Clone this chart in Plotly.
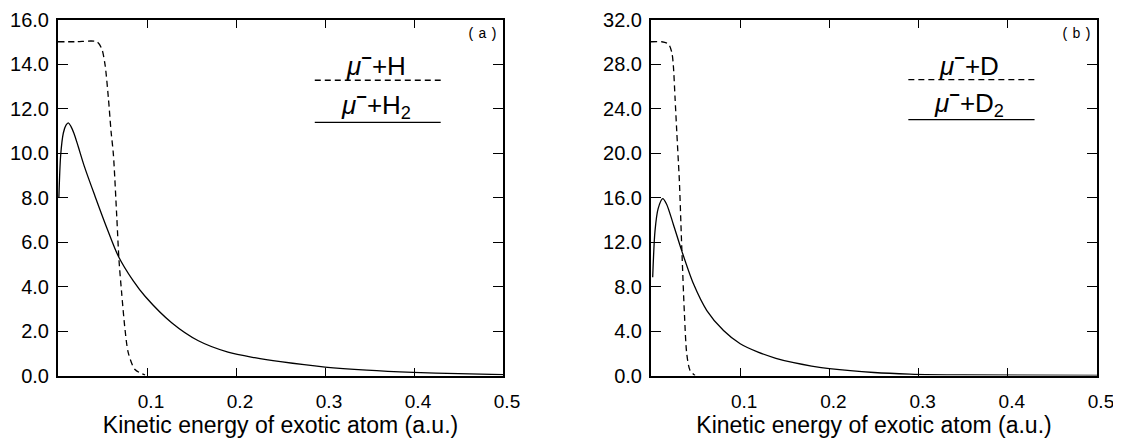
import plotly.graph_objects as go

# ---------------- Panel (a): mu- + H (dashed) and mu- + H2 (solid) ----------------
a_h_x = [0.0, 0.02, 0.0435, 0.049, 0.0528, 0.0566, 0.0596, 0.0622, 0.066, 0.0685,
         0.0715, 0.0753, 0.079, 0.0865, 0.0978]
a_h_y = [15.0, 15.0, 15.0, 14.7, 13.98, 12.48, 10.98, 9.95, 7.16, 5.2,
         3.72, 2.07, 1.02, 0.27, 0.02]

a_h2_x = [0.001, 0.003, 0.006, 0.009, 0.0116, 0.0145, 0.018, 0.0228, 0.0296, 0.0416,
          0.055, 0.0678, 0.0846, 0.0978, 0.1277, 0.1577, 0.191, 0.221, 0.25,
          0.30, 0.347, 0.399, 0.45, 0.5]
a_h2_y = [8.0, 9.9, 10.9, 11.25, 11.35, 11.2, 10.88, 10.28, 9.4, 8.06,
          6.62, 5.36, 4.25, 3.56, 2.37, 1.56, 1.05, 0.80, 0.62,
          0.38, 0.24, 0.14, 0.08, 0.04]

# ---------------- Panel (b): mu- + D (dashed) and mu- + D2 (solid) ----------------
b_d_x = [0.0, 0.012, 0.0195, 0.0233, 0.025, 0.027, 0.0289, 0.0307, 0.0318, 0.0345,
         0.0375, 0.0401, 0.0438, 0.0494]
b_d_y = [30.0, 30.0, 29.8, 29.06, 27.9, 24.9, 21.9, 19.2, 17.5, 11.5,
         5.5, 1.95, 0.45, 0.0]

b_d2_x = [0.0019, 0.0045, 0.008, 0.0131, 0.0175, 0.025, 0.0345, 0.0476, 0.0626, 0.0813,
          0.1, 0.12, 0.14, 0.16, 0.18, 0.2, 0.25, 0.29, 0.35, 0.5]
b_d2_y = [8.84, 13.0, 15.0, 15.9, 15.4, 13.6, 11.2, 8.24, 5.84, 4.04,
          2.85, 2.1, 1.55, 1.15, 0.85, 0.62, 0.27, 0.13, 0.05, 0.02]

x_ticks = [0.1, 0.2, 0.3, 0.4, 0.5]
x_ticktext = ["0.1", "0.2", "0.3", "0.4", "0.5"]
a_yticks = [0, 2, 4, 6, 8, 10, 12, 14, 16]
b_yticks = [0, 4, 8, 12, 16, 20, 24, 28, 32]

x_title = "Kinetic energy of exotic atom (a.u.)"

FONT = "Liberation Sans, Arial, sans-serif"
DASH = "6px,4px"

fig = go.Figure()

def line(x, y, dash, xa, ya):
    return go.Scatter(x=x, y=y, mode="lines",
                      line=dict(color="black", width=1.3, dash=dash,
                                shape="spline", smoothing=0.8),
                      xaxis=xa, yaxis=ya, showlegend=False, hoverinfo="skip")

fig.add_trace(line(a_h_x, a_h_y, DASH, "x", "y"))
fig.add_trace(line(a_h2_x, a_h2_y, "solid", "x", "y"))
fig.add_trace(line(b_d_x, b_d_y, DASH, "x2", "y2"))
fig.add_trace(line(b_d2_x, b_d2_y, "solid", "x2", "y2"))

# page body has an 8px margin: domains are computed to compensate
W, H, OFF = 1121, 442, 8
def xd(p0, p1):
    return [(p0 - OFF) / W, (p1 - OFF) / W]
ydom = [1 - (375.5 - OFF) / H, 1 - (19.5 - OFF) / H]

def xaxis(domain, anchor):
    return dict(domain=domain, anchor=anchor, range=[0, 0.5], automargin=False,
                tickmode="array", tickvals=x_ticks, ticktext=x_ticktext,
                ticks="inside", ticklen=8, tickwidth=1, tickcolor="black",
                showline=True, linewidth=2, linecolor="black", mirror="allticks",
                showgrid=False, zeroline=False, ticklabelstandoff=8, ticklabelshift=4,
                tickfont=dict(family=FONT, size=19, color="black"),
                title=dict(text=x_title, standoff=4,
                           font=dict(family=FONT, size=23, color="black")))

def yaxis(anchor, rng, ticks):
    return dict(domain=ydom, anchor=anchor, range=rng, automargin=False,
                tickmode="array", tickvals=ticks,
                ticktext=[f"{t:.1f}" for t in ticks],
                ticks="inside", ticklen=10, tickwidth=1, tickcolor="black",
                showline=True, linewidth=2, linecolor="black", mirror="allticks",
                showgrid=False, zeroline=False, ticklabelstandoff=3,
                tickfont=dict(family=FONT, size=20, color="black"))

fig.update_layout(
    width=W, height=H, autosize=False,
    margin=dict(l=0, r=0, t=0, b=0),
    paper_bgcolor="white", plot_bgcolor="white",
    xaxis=xaxis(xd(58, 503), "y"),
    yaxis=yaxis("x", [0, 16], a_yticks),
    xaxis2=xaxis(xd(651, 1097), "y2"),
    yaxis2=yaxis("x2", [0, 32], b_yticks),
)

# legends drawn as line samples with labels
legend_items = [
    ("x", "y", 13.27, DASH, "<i>μ</i><sup><b>−</b></sup>+H"),
    ("x", "y", 11.38, "solid", "<i>μ</i><sup><b>−</b></sup>+H<sub>2</sub>"),
    ("x2", "y2", 26.6, DASH, "<i>μ</i><sup><b>−</b></sup>+D"),
    ("x2", "y2", 23.0, "solid", "<i>μ</i><sup><b>−</b></sup>+D<sub>2</sub>"),
]
for xr, yr, yv, dash, txt in legend_items:
    fig.add_shape(type="line", xref=xr, yref=yr, x0=0.2885, x1=0.430, y0=yv, y1=yv,
                  line=dict(color="black", width=1.3, dash=dash))
    fig.add_annotation(xref=xr, yref=yr, x=0.357, y=yv, text=txt, showarrow=False,
                       xanchor="center", yanchor="bottom", yshift=-3,
                       font=dict(family=FONT, size=26, color="black"))

for xr, yr, lab in [("x domain", "y domain", "(&#8201;a&#8201;)"),
                    ("x2 domain", "y2 domain", "(&#8201;b&#8201;)")]:
    fig.add_annotation(xref=xr, yref=yr, x=0.955, y=0.958, text=lab, showarrow=False,
                       xanchor="center", yanchor="middle",
                       font=dict(family="Liberation Mono, monospace", size=14, color="black"))

fig.write_html("out.html")
